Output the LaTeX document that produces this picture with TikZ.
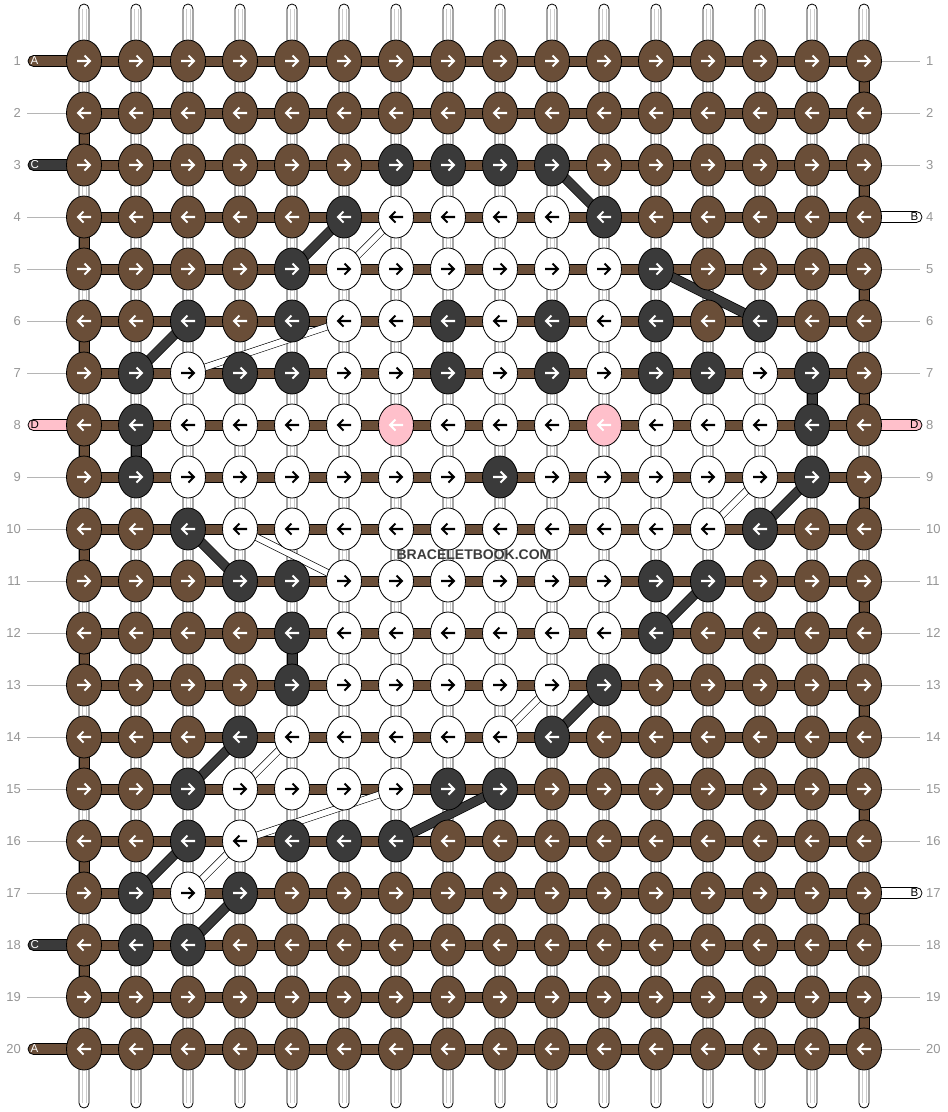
\documentclass[tikz,border=0pt]{standalone}
\usepackage{fontspec}
\setmainfont{Liberation Sans}
\usetikzlibrary{shapes.geometric}
\definecolor{brn}{RGB}{106,78,56}
\definecolor{drk}{RGB}{58,58,58}
\definecolor{pnk}{RGB}{255,192,203}
\definecolor{lbl}{RGB}{150,150,150}
\definecolor{kb}{RGB}{106,78,56}
\definecolor{kd}{RGB}{58,58,58}
\definecolor{kw}{RGB}{255,255,255}
\definecolor{kp}{RGB}{255,192,203}
\definecolor{ab}{RGB}{255,255,255}
\definecolor{ad}{RGB}{255,255,255}
\definecolor{aw}{RGB}{0,0,0}
\definecolor{ap}{RGB}{255,255,255}
\pgfdeclarelayer{bg}
\pgfsetlayers{bg,main}
\begin{document}
\begin{tikzpicture}[x=1pt,y=-1pt,
  knot/.style={ellipse, draw=black, line width=0.8pt, minimum width=35pt, minimum height=42pt, inner sep=0pt, outer sep=0pt},
  arrowline/.style={line width=2.1pt, line cap=butt, line join=miter},
  outl/.style={draw=black, line width=0.8pt},
  num/.style={text=lbl, inner sep=0pt, font=\fontsize{13}{13}\selectfont},
  tabtxt/.style={inner sep=0pt, font=\fontsize{11.5}{11.5}\selectfont},
  gline/.style={draw=lbl!70, line width=0.8pt},
  dkdiag/.style={draw=black, line width=0.7pt, double=drk, double distance=8.5pt, line cap=butt},
  wtdiag/.style={draw=black, line width=0.6pt, double=white, double distance=6pt, line cap=butt}]
\useasboundingbox (0,0) rectangle (948,1112);

% knots
\foreach \r/\code in {
 1/{b,b,b,b,b,b,b,b,b,b,b,b,b,b,b,b},
 2/{b,b,b,b,b,b,b,b,b,b,b,b,b,b,b,b},
 3/{b,b,b,b,b,b,d,d,d,d,b,b,b,b,b,b},
 4/{b,b,b,b,b,d,w,w,w,w,d,b,b,b,b,b},
 5/{b,b,b,b,d,w,w,w,w,w,w,d,b,b,b,b},
 6/{b,b,d,b,d,w,w,d,w,d,w,d,b,d,b,b},
 7/{b,d,w,d,d,w,w,d,w,d,w,d,d,w,d,b},
 8/{b,d,w,w,w,w,p,w,w,w,p,w,w,w,d,b},
 9/{b,d,w,w,w,w,w,w,d,w,w,w,w,w,d,b},
 10/{b,b,d,w,w,w,w,w,w,w,w,w,w,d,b,b},
 11/{b,b,b,d,d,w,w,w,w,w,w,d,d,b,b,b},
 12/{b,b,b,b,d,w,w,w,w,w,w,d,b,b,b,b},
 13/{b,b,b,b,d,w,w,w,w,w,d,b,b,b,b,b},
 14/{b,b,b,d,w,w,w,w,w,d,b,b,b,b,b,b},
 15/{b,b,d,w,w,w,w,d,d,b,b,b,b,b,b,b},
 16/{b,b,d,w,d,d,d,b,b,b,b,b,b,b,b,b},
 17/{b,d,w,d,b,b,b,b,b,b,b,b,b,b,b,b},
 18/{b,d,d,b,b,b,b,b,b,b,b,b,b,b,b,b},
 19/{b,b,b,b,b,b,b,b,b,b,b,b,b,b,b,b},
 20/{b,b,b,b,b,b,b,b,b,b,b,b,b,b,b,b}}{
  \foreach \k [count=\c] in \code {
    \pgfmathsetmacro\x{84+(\c-1)*52}
    \pgfmathsetmacro\y{61+(\r-1)*52}
    \node[knot, fill=k\k] (n-\r-\c) at (\x,\y) {};
    \ifodd\r\relax
      \draw[arrowline, draw=a\k] (\x-7,\y) -- (\x+6,\y) (\x+0.5,\y-5.5) -- (\x+6,\y) -- (\x+0.5,\y+5.5);
    \else
      \draw[arrowline, draw=a\k] (\x+7,\y) -- (\x-6,\y) (\x-0.5,\y-5.5) -- (\x-6,\y) -- (\x-0.5,\y+5.5);
    \fi
  }
}

% row numbers
\foreach \r in {1,...,20}{
  \pgfmathsetmacro\y{61+(\r-1)*52}
  \node[num, anchor=east] (ln-\r) at (21,\y) {\r};
  \node[num, anchor=west] (rn-\r) at (926,\y) {\r};
}

% watermark
\node[font=\bfseries\fontsize{14}{14}\selectfont, text={rgb,255:red,60;green,60;blue,60}, inner sep=0pt] (wm) at (474,555) {BRACELETBOOK.COM};

\begin{pgfonlayer}{bg}
  \fill[white] (0,0) rectangle (948,1112);
  % vertical strings
  \foreach \c in {1,...,16}{
    \pgfmathsetmacro\x{84+(\c-1)*52}
    \draw[fill=white, line width=0.8pt, rounded corners=5pt] (\x-5,4) rectangle (\x+5,1108);
    \draw[black!20, line width=0.5pt] (\x-1.8,9) -- (\x-1.8,1103) (\x+1.8,9) -- (\x+1.8,1103);
  }
  % edge turns (brown)
  \foreach \a/\b in {2/3,4/5,6/7,8/9,10/11,12/13,14/15,16/17,18/19}{
    \draw[outl, fill=brn] ([xshift=-5pt]n-\a-1.center) rectangle ([xshift=5pt]n-\b-1.center);
  }
  \foreach \a/\b in {1/2,3/4,5/6,7/8,9/10,11/12,13/14,15/16,17/18,19/20}{
    \draw[outl, fill=brn] ([xshift=-5pt]n-\a-16.center) rectangle ([xshift=5pt]n-\b-16.center);
  }
  % dark vertical segments
  \foreach \c/\a/\b in {15/7/8,2/8/9,5/12/13}{
    \draw[outl, fill=drk] ([xshift=-5pt]n-\a-\c.center) rectangle ([xshift=5pt]n-\b-\c.center);
  }
  % horizontal bars
  \foreach \r in {1,...,20}{
    \draw[outl, fill=brn] ([yshift=5pt]n-\r-1.center) rectangle ([yshift=-5pt]n-\r-16.center);
  }
  % left tabs
  \foreach \r/\col/\lab/\tc in {1/brn/A/white,3/drk/C/white,8/pnk/D/black,18/drk/C/white,20/brn/A/white}{
    \pgfmathsetmacro\y{61+(\r-1)*52}
    \draw[outl, fill=\col, rounded corners=5.5pt] (28,\y-5.5) rectangle (76,\y+5.5);
    \node[tabtxt, text=\tc, anchor=west] (lt-\r) at (30.5,\y) {\lab};
  }
  % right tabs
  \foreach \r/\col/\lab/\tc in {4/white/B/black,8/pnk/D/black,17/white/B/black}{
    \pgfmathsetmacro\y{61+(\r-1)*52}
    \draw[outl, fill=\col, rounded corners=5.5pt] (872,\y-5.5) rectangle (922,\y+5.5);
    \node[tabtxt, text=\tc, anchor=east] (rt-\r) at (918.5,\y) {\lab};
  }
  % gray leader lines
  \foreach \r in {2,4,5,6,7,9,10,11,12,13,14,15,16,17,19}{
    \draw[gline] (n-\r-1.west) -- ++(-40,0);
  }
  \foreach \r in {1,2,3,5,6,7,9,10,11,12,13,14,15,16,18,19,20}{
    \draw[gline] (n-\r-16.east) -- ++(38,0);
  }
  % dark diagonals
  \foreach \ra/\ca/\rb/\cb in {3/10/4/11,4/6/5/5,5/12/6/14,6/3/7/2,9/15/10/14,10/3/11/4,11/13/12/12,13/11/14/10,15/9/16/7,14/4/15/3,16/3/17/2,17/4/18/3}{
    \draw[dkdiag] (n-\ra-\ca.center) -- (n-\rb-\cb.center);
  }
  % white diagonals
  \foreach \ra/\ca/\rb/\cb in {4/7/5/6,6/6/7/3,9/14/10/13,10/4/11/6,13/10/14/9,14/5/15/4,15/7/16/4,16/4/17/3}{
    \draw[wtdiag] (n-\ra-\ca.center) -- (n-\rb-\cb.center);
  }
\end{pgfonlayer}
\end{tikzpicture}
\end{document}
